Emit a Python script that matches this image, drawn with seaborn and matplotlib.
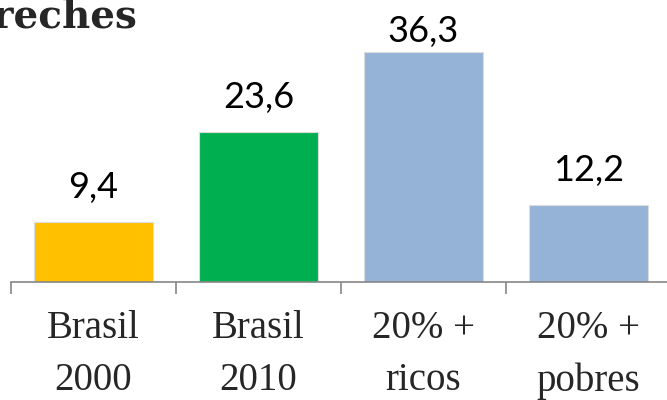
import matplotlib
matplotlib.use("Agg")
import matplotlib.pyplot as plt
import seaborn as sns
import numpy as np

# Data

categories = ["Brasil\n2000", "Brasil\n2010", "20% +\nricos", "20% +\npobres"]
values = [9.4, 23.6, 36.3, 12.2]
colors = ["#FFC000", "#00B050", "#95B3D7", "#95B3D7"]
title_text = "Creches"

sns.set_style("white")

fig = plt.figure(figsize=(6.67, 4), dpi=100)
ax = fig.add_axes([11 / 667, 118 / 400, 660 / 667, 0.634])

sns.barplot(
    x=categories,
    y=values,
    hue=categories,
    palette=colors,
    saturation=1,
    legend=False,
    width=0.72,
    edgecolor="#dcdcdc",
    linewidth=0.8,
    ax=ax
)

ax.set_xlim(-0.5, len(categories) - 0.5)
ax.set_ylim(0, 40)

# value labels (outside end, clamped to plot top like Excel)
for i, v in enumerate(values):
    y = min(v + 3.8, 37.85)
    ax.text(
        i, y, f"{v:.1f}".replace(".", ","),
        ha="center", va="baseline",
        fontsize=26, family="Lato", color="black"
    )

# axis styling
for s in ["top", "right", "left"]:
    ax.spines[s].set_visible(False)
ax.spines["bottom"].set_color("#868686")
ax.spines["bottom"].set_linewidth(1.2)

ax.set_yticks([])
ax.set_xticks(range(len(categories)))
ax.set_xticklabels(categories, family="Liberation Serif", fontsize=28)
ax.set_xticks(np.arange(-0.5, len(categories), 1.0), minor=True)
ax.tick_params(axis="x", which="major", bottom=True, length=0, pad=20)
ax.tick_params(axis="x", which="minor", bottom=True, length=8.5, width=1.2, color="#868686")
for lbl in ax.get_xticklabels():
    lbl.set_linespacing(1.55)

ax.set_xlabel("")
ax.set_ylabel("")

fig.text(
    137 / 667, 1 - 27 / 400, title_text,
    ha="right", va="baseline",
    fontsize=28, fontweight="bold", family="DejaVu Serif"
)

fig.savefig("out.png", dpi=100)
